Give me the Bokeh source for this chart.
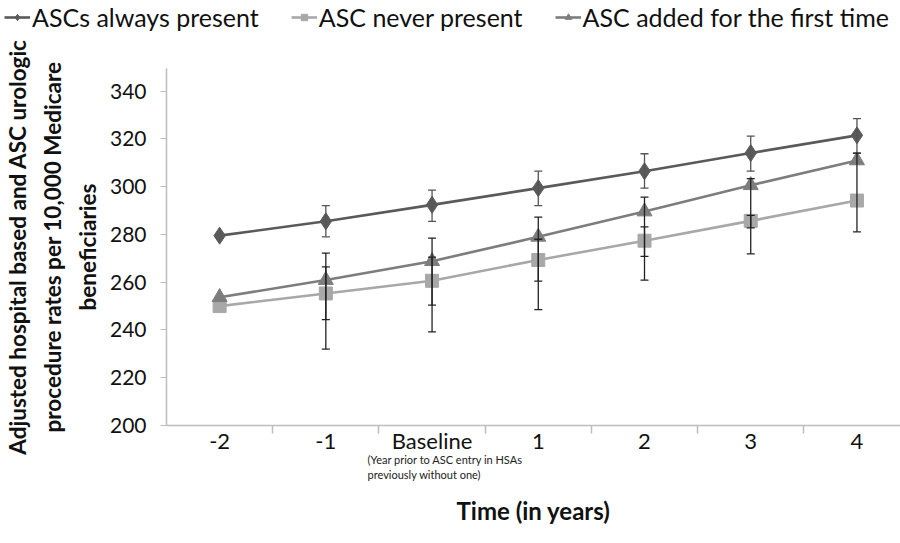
from bokeh.plotting import figure
from bokeh.layouts import column, row
from bokeh.models import (ColumnDataSource, Whisker, TeeHead, FixedTicker, Legend,
                          LegendItem, Range1d, Title)
from bokeh.embed import file_html
from bokeh.resources import INLINE

categories = ["-2", "-1", "Baseline", "1", "2", "3", "4"]

always_present = [279.5, 285.5, 292.4, 299.4, 306.5, 314.1, 321.5]
always_lower = [None, 279.0, 285.5, 292.1, 299.4, 306.5, 314.1]
always_upper = [None, 292.1, 298.6, 306.5, 313.8, 321.2, 328.5]

never_present = [250.0, 255.3, 260.6, 269.3, 277.4, 285.7, 294.2]
never_lower = [None, 244.3, 250.4, 260.5, 270.8, 282.8, None]
never_upper = [None, 266.4, 270.5, 278.0, 283.2, 288.0, None]

added_first = [253.7, 260.9, 268.8, 279.0, 289.6, 300.6, 311.0]
added_lower = [None, 232.0, 239.2, 248.5, 260.9, 271.9, 281.1]
added_upper = [None, 272.2, 278.5, 287.3, 295.6, 303.4, 314.1]

y_ticks = [200, 220, 240, 260, 280, 300, 320, 340]

y_title_lines = ["Adjusted hospital based and ASC urologic",
                 "procedure rates per 10,000 Medicare",
                 "beneficiaries"]

FONT = "Lato"
TXT = "#111111"
xs = list(range(len(categories)))
NAN = float("nan")

series = [
    ("ASCs always present", always_present, always_lower, always_upper, "#5a5a5a", "diamond", 17, "#555555"),
    ("ASC never present", never_present, never_lower, never_upper, "#a8a8a8", "square", 13, "#222222"),
    ("ASC added for the first time", added_first, added_lower, added_upper, "#7d7d7d", "triangle", 15, "#222222"),
]

# ---------- legend strip ----------
LEG_H = 38
lf = figure(width=900, height=LEG_H, output_backend="svg", toolbar_location=None,
            x_range=Range1d(0, 1), y_range=Range1d(0, 1),
            x_axis_location=None, y_axis_location=None,
            min_border_left=0, min_border_right=0, min_border_top=0, min_border_bottom=0)
lf.grid.grid_line_color = None
lf.outline_line_color = None
items = []
for name, vals, lo, hi, color, marker, size, ecolor in series:
    r1 = lf.line([NAN, NAN], [NAN, NAN], line_color=color, line_width=2.6)
    r2 = lf.scatter([NAN], [NAN], marker=marker, size=size * 0.9, fill_color=color, line_color=color)
    items.append(LegendItem(label=name, renderers=[r1, r2]))
legend = Legend(items=items, orientation="horizontal", location=(4, 6),
                label_text_font=FONT, label_text_font_size="25px", label_text_color=TXT,
                glyph_width=26, glyph_height=16, spacing=32, label_standoff=2,
                border_line_color=None, background_fill_alpha=0, padding=0, margin=0)
lf.add_layout(legend)

# ---------- main chart ----------
p = figure(width=900, height=543 - LEG_H, output_backend="svg", toolbar_location=None,
           x_range=Range1d(-0.5, 6.41), y_range=Range1d(200, 349.5),
           min_border_left=162, min_border_right=0, min_border_top=68 - LEG_H, min_border_bottom=113)
p.outline_line_color = None
p.xgrid.grid_line_color = None
p.ygrid.grid_line_color = None

for name, vals, lo, hi, color, marker, size, ecolor in series:
    idx = [i for i in xs if lo[i] is not None]
    src = ColumnDataSource(dict(x=[xs[i] for i in idx], lower=[lo[i] for i in idx], upper=[hi[i] for i in idx]))
    w = Whisker(source=src, base="x", lower="lower", upper="upper", dimension="height",
                line_color=ecolor, line_width=1.3, level="glyph",
                upper_head=TeeHead(size=8, line_color=ecolor, line_width=1.3),
                lower_head=TeeHead(size=8, line_color=ecolor, line_width=1.3))
    p.add_layout(w)

for name, vals, lo, hi, color, marker, size, ecolor in series:
    p.line(xs, vals, line_color=color, line_width=2.6)
    p.scatter(xs, vals, marker=marker, size=size, fill_color=color, line_color=color)

# y axis
p.yaxis.ticker = FixedTicker(ticks=y_ticks)
p.yaxis.axis_line_color = "#bdbdbd"
p.yaxis.axis_line_width = 1.5
p.yaxis.major_tick_line_color = "#bdbdbd"
p.yaxis.major_tick_out = 6
p.yaxis.major_tick_in = 0
p.yaxis.minor_tick_line_color = None
p.yaxis.major_label_text_font = FONT
p.yaxis.major_label_text_font_size = "21px"
p.yaxis.major_label_text_color = TXT
p.yaxis.major_label_standoff = 14
p.yaxis.axis_label = "\n".join(y_title_lines)
p.yaxis.axis_label_text_font = FONT
p.yaxis.axis_label_text_font_style = "bold"
p.yaxis.axis_label_text_font_size = "22.5px"
p.yaxis.axis_label_text_line_height = 1.3
p.yaxis.axis_label_text_color = TXT
p.yaxis.axis_label_standoff = 6

# x axis
p.xaxis.ticker = FixedTicker(ticks=xs, minor_ticks=[i + 0.5 for i in xs])
p.xaxis.major_label_overrides = {i: c for i, c in zip(xs, categories)}
p.xaxis.axis_line_color = "#bdbdbd"
p.xaxis.axis_line_width = 1.5
p.xaxis.major_tick_line_color = None
p.xaxis.major_tick_out = 0
p.xaxis.major_tick_in = 0
p.xaxis.minor_tick_line_color = "#bdbdbd"
p.xaxis.minor_tick_line_width = 1.5
p.xaxis.minor_tick_out = 8
p.xaxis.minor_tick_in = 0
p.xaxis.major_label_text_font = FONT
p.xaxis.major_label_text_font_size = "22px"
p.xaxis.major_label_text_color = TXT
p.xaxis.major_label_standoff = -7

sub = Title(text="(Year prior to ASC entry in HSAs\npreviously without one)", align="left",
            offset=201, text_font=FONT, text_font_size="11px", text_font_style="normal",
            text_line_height=1.15, text_color="#222222", standoff=-11)
p.add_layout(sub, "below")
xt = Title(text="Time (in years)", align="center", text_font=FONT, text_font_size="24px",
           text_font_style="bold", text_color=TXT, standoff=37)
p.add_layout(xt, "below")

layout = column(row(lf), row(p), spacing=0)
open("out.html", "w").write(file_html(layout, INLINE))
